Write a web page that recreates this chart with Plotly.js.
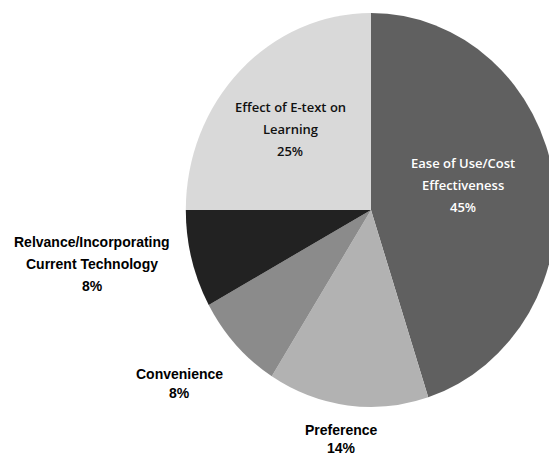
<!DOCTYPE html>
<html>
<head>
<meta charset="utf-8">
<script src="https://cdn.plot.ly/plotly-3.0.1.min.js"></script>
<style>
html,body{margin:0;padding:0;overflow:hidden;background:#fff;}
#wrap{position:relative;width:549px;height:456px;overflow:hidden;}
#pie{position:absolute;left:0;top:0;width:600px;height:456px;transform:scaleX(0.94);transform-origin:371px 0;}
#labels{position:absolute;left:0;top:0;width:600px;height:456px;}
</style>
</head>
<body>
<div id="wrap"><div id="pie"></div><div id="labels"></div></div>
<script>
// Data
var categories = ["Ease of Use/Cost<br>Effectiveness", "Preference", "Convenience", "Relvance/Incorporating<br>Current Technology", "Effect of E-text on<br>Learning"];
var values = [45, 14, 8, 8, 25];

// Styles
var sliceColors = ["#606060", "#b2b2b2", "#8b8b8b", "#222222", "#d9d9d9"];
var labelColors = ["#ffffff", "#000000", "#000000", "#000000", "#111111"];
var labelWeights = [600, "bold", "bold", "bold", 600];
var labelFonts = ["Open Sans", "Liberation Sans", "Liberation Sans", "Liberation Sans", "Open Sans"];
var labelSizes = [13, 14, 14, 14, 13];
// label centre positions in pixels (x, y of first line) in a 600x456 canvas
var labelPos = [[463, 163], [341, 430], [179, 374], [92, 242], [290, 107]];
var lineGap = [22, 18, 19, 22, 22];

var W = 600, H = 456;
var cx = 371, cy = 210, r = 197;

var annotations = [];
for (var i = 0; i < categories.length; i++) {
  var lines = categories[i].split("<br>").concat([values[i] + "%"]);
  for (var j = 0; j < lines.length; j++) {
    annotations.push({
      text: lines[j],
      x: labelPos[i][0] / W,
      y: 1 - (labelPos[i][1] + j * lineGap[i]) / H,
      xref: "paper", yref: "paper",
      xanchor: "center", yanchor: "middle",
      showarrow: false,
      font: {family: labelFonts[i] + ", Arial, sans-serif", size: labelSizes[i], color: labelColors[i], weight: labelWeights[i]}
    });
  }
}

var trace = {
  type: "pie",
  labels: categories,
  values: values,
  sort: false,
  direction: "clockwise",
  rotation: 0,
  textinfo: "none",
  hoverinfo: "label+percent",
  marker: {colors: sliceColors, line: {width: 0}},
  domain: {x: [(cx - r) / W, (cx + r) / W], y: [1 - (cy + r) / H, 1 - (cy - r) / H]}
};

Plotly.newPlot("pie", [trace], {
  width: W, height: H,
  margin: {l: 0, r: 0, t: 0, b: 0},
  showlegend: false,
  paper_bgcolor: "#ffffff"
}, {displayModeBar: false, staticPlot: true});

Plotly.newPlot("labels", [], {
  width: W, height: H,
  margin: {l: 0, r: 0, t: 0, b: 0},
  showlegend: false,
  paper_bgcolor: "rgba(0,0,0,0)",
  plot_bgcolor: "rgba(0,0,0,0)",
  xaxis: {visible: false}, yaxis: {visible: false},
  annotations: annotations
}, {displayModeBar: false, staticPlot: true});
</script>
</body>
</html>
